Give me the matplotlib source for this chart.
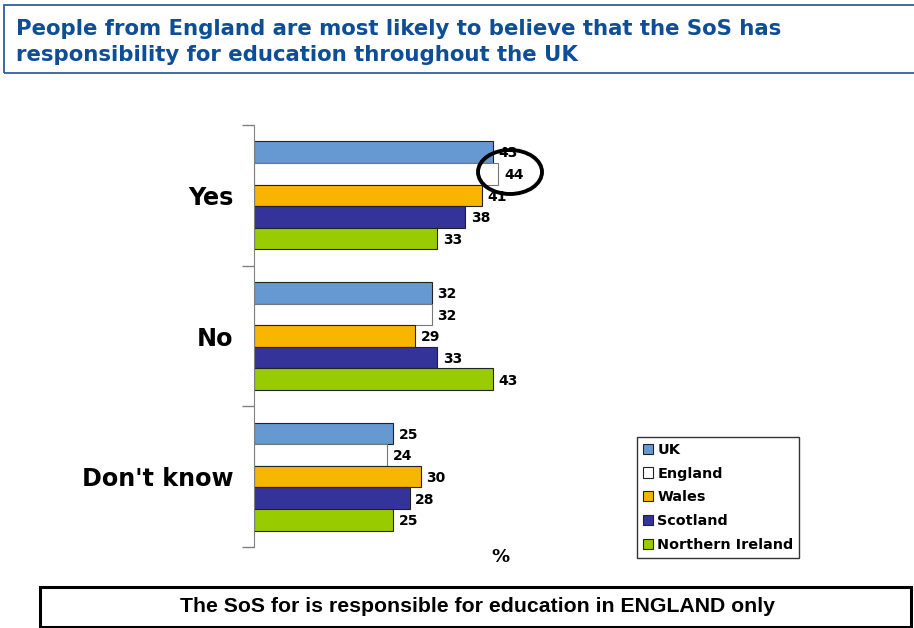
import matplotlib
matplotlib.use("Agg")
import matplotlib.pyplot as plt
import matplotlib.patches as mpatches
import numpy as np

# data
categories = ["Yes", "No", "Don't know"]
series_names = ["UK", "England", "Wales", "Scotland", "Northern Ireland"]
uk = [43, 32, 25]
england = [44, 32, 24]
wales = [41, 29, 30]
scotland = [38, 33, 28]
n_ireland = [33, 43, 25]
series_values = [uk, england, wales, scotland, n_ireland]
colours = ["#6699D1", "#FFFFFF", "#F8B500", "#333399", "#99CC00"]

title_text = ("People from England are most likely to believe that the SoS has\n"
              "responsibility for education throughout the UK")
footer_text = "The SoS for is responsible for education in ENGLAND only"

W, H = 914, 628
fig = plt.figure(figsize=(W / 100, H / 100), dpi=100)

def fx(px):
    return px / W

def fy(py):
    return 1 - py / H

# title box + title
fig.patches.append(mpatches.Rectangle((fx(4), fy(73)), fx(W + 10), fy(5) - fy(73),
                                      transform=fig.transFigure, fill=False,
                                      edgecolor="#2F5F9F", lw=1.3))
fig.text(fx(16), fy(42), title_text, color="#0E4E96", fontsize=15.3, fontweight="bold",
         family="DejaVu Sans", va="center", ha="left", linespacing=1.42)

# bar chart
ax = fig.add_axes([fx(254), fy(547), fx(754) - fx(254), fy(125) - fy(547)])
y = np.arange(len(categories))
bh = 0.154
offsets = (np.arange(len(series_names)) - 2) * bh
for name, vals, col, off in zip(series_names, series_values, colours, offsets):
    edge = "#777777" if col == "#FFFFFF" else "#222222"
    bars = ax.barh(y + off, vals, height=bh, color=col, edgecolor=edge, lw=0.8, label=name)
    for b, v in zip(bars, vals):
        ax.annotate(str(v), (v, b.get_y() + b.get_height() / 2), xytext=(4, -1),
                    textcoords="offset points", va="center", ha="left",
                    fontsize=10, fontweight="bold", family="DejaVu Sans")

ax.set_xlim(0, 90)
ax.set_ylim(2.5, -0.5)
ax.set_xticks([])
ax.set_yticks([-0.5, 0.5, 1.5, 2.5])
ax.set_yticklabels([])
ax.set_yticks(y, minor=True)
ax.set_yticklabels(categories, minor=True, fontsize=17.2, fontweight="bold", family="DejaVu Sans")
ax.tick_params(axis="y", which="major", length=9, color="#808080", width=1)
ax.tick_params(axis="y", which="minor", length=0, pad=15)
for s in ["top", "right", "bottom"]:
    ax.spines[s].set_visible(False)
ax.spines["left"].set_color("#808080")
ax.patch.set_alpha(0)

fig.text(fx(500), fy(557), "%", fontsize=13, fontweight="bold", family="DejaVu Sans",
         ha="center", va="center")

# highlight circle
fig.patches.append(mpatches.Ellipse((fx(510), fy(172)), fx(64), fy(0) - fy(44),
                                    transform=fig.transFigure, fill=False,
                                    edgecolor="black", lw=2.8))

# legend
handles = [mpatches.Patch(facecolor=c, edgecolor="#222222", lw=0.8) for c in colours]
leg = fig.legend(handles, series_names, loc="upper left",
                 bbox_to_anchor=(fx(637), fy(437)), borderaxespad=0,
                 prop={"family": "DejaVu Sans", "weight": "bold", "size": 10.4},
                 handlelength=0.7, handleheight=0.7, handletextpad=0.3,
                 labelspacing=0.68, borderpad=0.4, fancybox=False, framealpha=1)
leg.get_frame().set_edgecolor("#333333")
leg.get_frame().set_linewidth(1)

# footer box
fig.patches.append(mpatches.Rectangle((fx(40), fy(627)), fx(911) - fx(40), fy(587) - fy(627),
                                      transform=fig.transFigure, fill=False,
                                      edgecolor="black", lw=2.2))
fig.text(fx(478), fy(607), footer_text, fontsize=15.3, fontweight="bold",
         family="Liberation Sans", ha="center", va="center")

fig.savefig("out.png", dpi=100)
